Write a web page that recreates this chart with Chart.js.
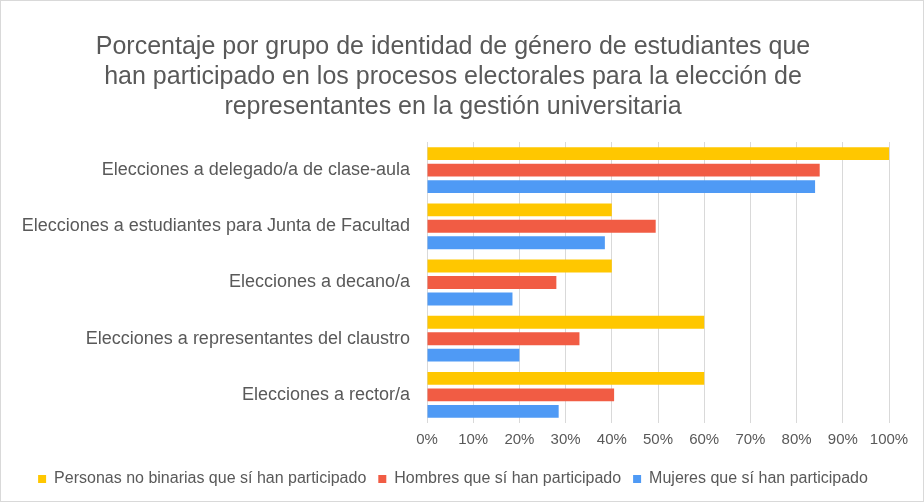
<!DOCTYPE html>
<html>
<head>
<meta charset="utf-8">
<script src="https://cdn.jsdelivr.net/npm/chart.js@4"></script>
<style>
  html, body { margin: 0; padding: 0; background: #fff; }
  #wrap { position: relative; width: 924px; height: 502px; box-sizing: border-box; border: 1px solid #d9d9d9; }
</style>
</head>
<body>
<div id="wrap"><canvas id="chart"></canvas></div>
<script>
// --- datos ---
const categorias = [
  "Elecciones a delegado/a de clase-aula",
  "Elecciones a estudiantes para Junta de Facultad",
  "Elecciones a decano/a",
  "Elecciones a representantes del claustro",
  "Elecciones a rector/a"
];
const noBinarias = [100, 40, 40, 60, 60];
const hombres = [85, 49.5, 28, 33, 40.5];
const mujeres = [84, 38.5, 18.5, 20, 28.5];
const titulo = [
  "Porcentaje por grupo de identidad de género de estudiantes que",
  "han participado en los procesos electorales para la elección de",
  "representantes en la gestión universitaria"
];

const gris = "#595959";
const fuente = "'Liberation Sans', Arial, sans-serif";

new Chart(document.getElementById("chart"), {
  type: "bar",
  data: {
    labels: categorias,
    datasets: [
      { label: "Personas no binarias que sí han participado", data: noBinarias, backgroundColor: "#ffc700" },
      { label: "Hombres que sí han participado", data: hombres, backgroundColor: "#f15c44" },
      { label: "Mujeres que sí han participado", data: mujeres, backgroundColor: "#4f9af5" }
    ]
  },
  options: {
    indexAxis: "y",
    responsive: true,
    maintainAspectRatio: false,
    animation: false,
    categoryPercentage: 0.88,
    barPercentage: 0.78,
    layout: { padding: { left: 16, right: 34, top: 0, bottom: 4 } },
    plugins: {
      title: {
        display: true,
        text: titulo,
        color: gris,
        font: { family: fuente, size: 25, weight: "normal", lineHeight: 1.2 },
        padding: { top: 31, bottom: 20 }
      },
      legend: {
        position: "bottom",
        labels: {
          color: gris,
          font: { family: fuente, size: 16 },
          boxWidth: 8,
          boxHeight: 8,
          padding: 12
        }
      },
      tooltip: { enabled: false }
    },
    scales: {
      x: {
        min: 0,
        max: 100,
        ticks: {
          stepSize: 10,
          color: gris,
          font: { family: fuente, size: 15 },
          callback: v => v + "%",
          padding: 8,
          maxRotation: 0,
          autoSkip: false
        },
        grid: { color: "#d9d9d9", drawTicks: false },
        border: { display: false },
        afterFit: s => { s.height = 36; }
      },
      y: {
        ticks: {
          color: gris,
          font: { family: fuente, size: 18 },
          padding: 9
        },
        grid: { display: false },
        border: { display: false },
        afterFit: s => { s.width = 410; }
      }
    }
  }
});
</script>
</body>
</html>
